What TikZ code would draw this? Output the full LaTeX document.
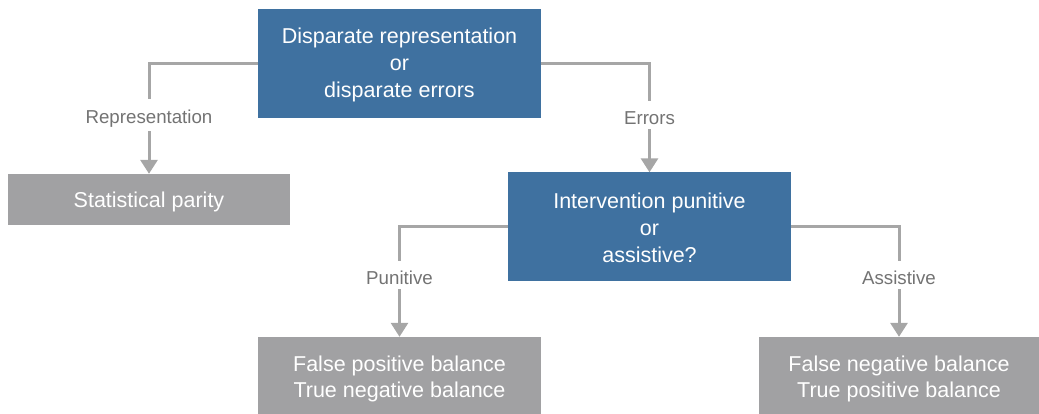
\documentclass[tikz,border=0pt]{standalone}
\usepackage{fontspec}
\setmainfont{Liberation Sans}
\usepackage{tikz}
\usetikzlibrary{arrows.meta}

\definecolor{boxblue}{HTML}{3F71A0}
\definecolor{boxgrey}{HTML}{A1A1A3}
\definecolor{linegrey}{HTML}{A6A6A6}
\definecolor{labelgrey}{HTML}{737373}
\newcommand{\capstrut}{\rule{0pt}{22pt}}
\newcommand{\topstrut}{\rule{0pt}{18pt}}

\begin{document}
\begin{tikzpicture}[x=1pt,y=-1pt,
  decision/.style={fill=boxblue,text=white,align=center,inner sep=0pt,
    font=\fontsize{21.5}{27}\selectfont},
  outcome/.style={fill=boxgrey,text=white,align=center,inner sep=0pt,
    font=\fontsize{21.5}{25.5}\selectfont,
    execute at begin node={\rule{0pt}{21pt}}},
  conn/.style={draw=linegrey,line width=3pt,-{Triangle[width=17pt,length=14pt]}},
  lbl/.style={fill=white,text=labelgrey,inner xsep=3pt,inner ysep=4pt,
    font=\fontsize{18.7}{22}\selectfont,
    execute at begin node={\rule{0pt}{20pt}}}]
 %% page frame
 \useasboundingbox (0,0) rectangle (1039,414);
 %% decisions
 \node[decision,minimum width=283pt,minimum height=109pt] at (399.5,63.5) (DR)
   {\topstrut Disparate representation\\or\\disparate errors};
 \node[decision,minimum width=283pt,minimum height=108pt] at (649.5,226.5) (IP)
   {\topstrut Intervention punitive\\or\\assistive?};
 %% outcomes
 \node[outcome,minimum width=282pt,minimum height=51pt] at (149,199.5) (SP)
   {Statistical parity};
 \node[outcome,minimum width=283pt,minimum height=77pt] at (399.5,375.5) (FPB)
   {\capstrut False positive balance\\True negative balance};
 \node[outcome,minimum width=280pt,minimum height=77pt] at (899,375.5) (FNB)
   {\capstrut False negative balance\\True positive balance};
 %% connectors
 \draw[conn] (DR.west) -| (SP.north) node[lbl,pos=0.735]{Representation};
 \draw[conn] (DR.east) -| (IP.north) node[lbl,pos=0.735]{Errors};
 \draw[conn] (IP.west) -| (FPB.north) node[lbl,pos=0.72]{Punitive};
 \draw[conn] (IP.east) -| (FNB.north) node[lbl,pos=0.72]{Assistive};
\end{tikzpicture}
\end{document}
